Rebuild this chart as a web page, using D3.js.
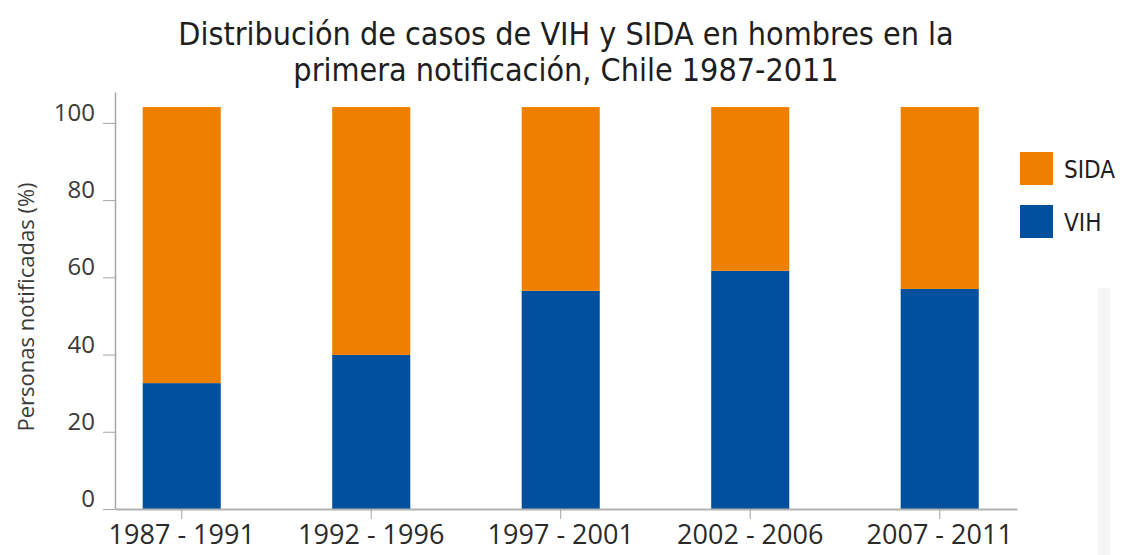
<!DOCTYPE html>
<html>
<head>
<meta charset="utf-8">
<script src="https://cdn.jsdelivr.net/npm/d3@7"></script>
<style>
  body { margin: 0; background: #fff; }
  svg { display: block; }
</style>
</head>
<body>
<script>
// values (axis units)
const periods = ["1987 - 1991", "1992 - 1996", "1997 - 2001", "2002 - 2006", "2007 - 2011"];
const vih = [32.6, 39.9, 56.5, 61.7, 57.0];
const sida = [71.5, 64.2, 47.6, 42.4, 47.1];
const yTicks = [0, 20, 40, 60, 80, 100];
const seriesNames = ["VIH", "SIDA"];
const colors = { VIH: "#01509e", SIDA: "#ef7f00" };
const titleLines = ["Distribución de casos de VIH y SIDA en hombres en la", "primera notificación, Chile 1987-2011"];

const width = 1134;
const height = 555;
const condensed = "'DejaVu Sans Condensed', 'Noto Sans', sans-serif";
const light = "'Open Sans', 'Noto Sans', sans-serif";

const svg = d3
  .select("body")
  .append("svg")
  .attr("width", width)
  .attr("height", height);

svg.append("rect").attr("width", width).attr("height", height).attr("fill", "#fff");

// faint strip on the right edge of the scan
svg
  .append("rect")
  .attr("x", 1098)
  .attr("y", 288)
  .attr("width", 12)
  .attr("height", height - 288)
  .attr("fill", "#f6f6f6");

const rows = periods.map((p, i) => ({ period: p, VIH: vih[i], SIDA: sida[i] }));
const stacked = d3.stack().keys(seriesNames)(rows);

const x = d3
  .scaleBand()
  .domain(periods)
  .range([115, 1017])
  .paddingInner(0.588)
  .paddingOuter(0.174)
  .align(0.42);

const y = d3.scaleLinear().domain([0, 108]).range([509, 92]);

// bars
svg
  .append("g")
  .selectAll("g")
  .data(stacked)
  .join("g")
  .attr("fill", (d) => colors[d.key])
  .selectAll("rect")
  .data((d) => d)
  .join("rect")
  .attr("x", (d) => x(d.data.period))
  .attr("y", (d) => y(d[1]))
  .attr("width", x.bandwidth())
  .attr("height", (d) => y(d[0]) - y(d[1]));

// y axis
const yAxis = svg
  .append("g")
  .attr("transform", "translate(115,0)")
  .call(d3.axisLeft(y).tickValues(yTicks).tickSize(12).tickSizeOuter(0).tickPadding(8));
yAxis.select(".domain").attr("stroke", "#a6a6a6").attr("stroke-width", 1.5);
yAxis.selectAll(".tick line").attr("stroke", "#a6a6a6");
yAxis
  .selectAll(".tick text")
  .attr("fill", "#3a3a3a")
  .attr("font-family", light)
  .attr("font-size", 24)
  .attr("dy", "-0.1em");

// x axis
const xAxis = svg
  .append("g")
  .attr("transform", "translate(0,509)")
  .call(d3.axisBottom(x).tickSize(10).tickSizeOuter(0).tickPadding(6));
xAxis.select(".domain").attr("stroke", "#b3b3b3").attr("stroke-width", 2);
xAxis.selectAll(".tick line").attr("stroke", "#a6a6a6");
xAxis
  .selectAll(".tick text")
  .attr("fill", "#2a2a2a")
  .attr("font-family", light)
  .attr("font-size", 27);

// y label
svg
  .append("text")
  .attr("transform", "translate(34,307) rotate(-90)")
  .attr("text-anchor", "middle")
  .attr("font-family", light)
  .attr("font-size", 22)
  .attr("fill", "#3a3a3a")
  .text("Personas notificadas (%)");

// title
svg
  .append("g")
  .selectAll("text")
  .data(titleLines)
  .join("text")
  .attr("x", 566)
  .attr("y", (_, i) => 45 + i * 36)
  .attr("text-anchor", "middle")
  .attr("font-family", condensed)
  .attr("font-size", 32)
  .attr("fill", "#1e1e1e")
  .text((d) => d);

// legend
const legend = svg
  .append("g")
  .selectAll("g")
  .data(["SIDA", "VIH"])
  .join("g")
  .attr("transform", (_, i) => `translate(1020,${152 + i * 53})`);
legend
  .append("rect")
  .attr("width", 33)
  .attr("height", 33)
  .attr("fill", (d) => colors[d]);
legend
  .append("text")
  .attr("x", 44)
  .attr("y", 26)
  .attr("font-family", condensed)
  .attr("font-size", 24)
  .attr("fill", "#1e1e1e")
  .text((d) => d);
</script>
</body>
</html>
